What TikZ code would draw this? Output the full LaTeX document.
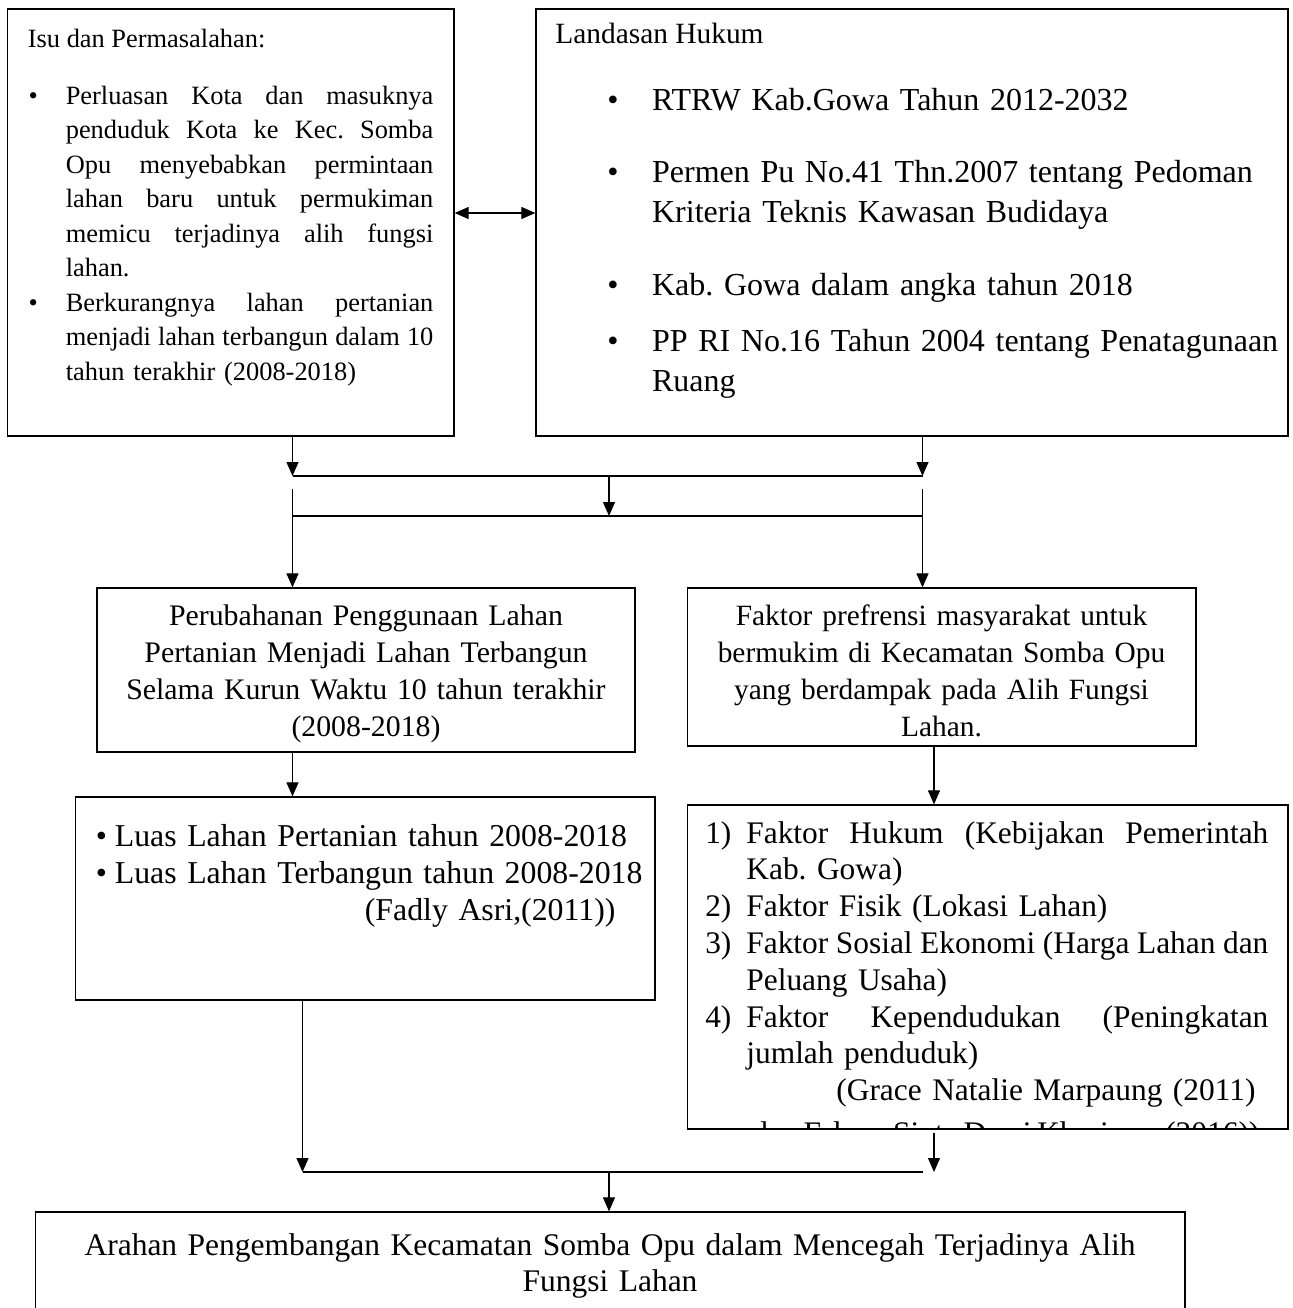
\documentclass[tikz,border=0pt]{standalone}
\usepackage{fontspec}
\setmainfont{Liberation Serif}
\usetikzlibrary{arrows.meta,fit}
\newcommand\jl[2]{\leavevmode\hbox to #1{#2}}
\newcommand\bul[1]{\leavevmode\llap{\textbullet\hspace{#1}}}
\newcommand\num[1]{\leavevmode\llap{#1\hspace{7.5pt}}}
\frenchspacing
\begin{document}
\begin{tikzpicture}[x=0.5pt,y=-0.5pt,
  box/.style={draw, line width=0.65pt, inner sep=0pt},
  txt/.style={inner sep=0pt, anchor=base west, align=left},
  ctxt/.style={inner sep=0pt, anchor=base, align=center},
  conn/.style={line width=0.6pt, -{Triangle[length=7pt,width=6pt]}},
  dconn/.style={line width=0.6pt, {Triangle[length=7pt,width=6pt]}-{Triangle[length=7pt,width=6pt]}},
  bar/.style={line width=1.3pt},
]
\useasboundingbox (0,0) rectangle (1293,1308);
\clip (0,0) rectangle (1293,1308);

% boxes
\node[box, fit={(7.5,9) (454,436)}] (b1) {};
\node[box, fit={(536,9) (1288,436)}] (b2) {};
\node[box, fit={(97,588) (635,752)}] (b3) {};
\node[box, fit={(687.5,588) (1196,746)}] (b4) {};
\node[box, fit={(75.5,797) (655,1000)}] (b5) {};
\node[box, fit={(687.5,805) (1288,1129)}] (b6) {};
\node[box, fit={(35.5,1212) (1185,1340)}] (b7) {};

% box 1 text
\node[txt, font=\fontsize{13.2pt}{17.25pt}\selectfont] (t1a) at (27.5,47) {Isu dan Permasalahan:};
\node[txt, text width=184pt, font=\fontsize{13.2pt}{17.25pt}\selectfont] (t1b) at (65.4,104) {%
\bul{14pt}\jl{183.8pt}{Perluasan\hfill Kota\hfill dan\hfill masuknya}\\
\jl{183.8pt}{penduduk\hfill Kota\hfill ke\hfill Kec.\hfill Somba}\\
\jl{183.8pt}{Opu\hfill menyebabkan\hfill permintaan}\\
\jl{183.8pt}{lahan\hfill baru\hfill untuk\hfill permukiman}\\
\jl{183.8pt}{memicu\hfill terjadinya\hfill alih\hfill fungsi}\\
lahan.\\
\bul{14pt}\jl{183.8pt}{Berkurangnya\hfill lahan\hfill pertanian}\\
\jl{183.8pt}{menjadi\hfill lahan\hfill terbangun\hfill dalam\hfill 10}\\
tahun terakhir (2008-2018)};

% box 2 text
\node[txt, font=\fontsize{14.7pt}{20pt}\selectfont] (t2a) at (555,43) {Landasan Hukum};
\node[txt, text width=318pt, font=\fontsize{16pt}{20pt}\selectfont] (t2b) at (651.7,110) {%
\bul{16.8pt}RTRW Kab.Gowa Tahun 2012-2032\\[16pt]
\bul{16.8pt}Permen Pu No.41 Thn.2007 tentang Pedoman\\
Kriteria Teknis Kawasan Budidaya\\[16.5pt]
\bul{16.8pt}Kab. Gowa dalam angka tahun 2018\\[8pt]
\bul{16.8pt}PP RI No.16 Tahun 2004 tentang Penatagunaan\\
Ruang};

% box 3 text
\node[ctxt, text width=260pt, font=\fontsize{14.9pt}{18.5pt}\selectfont] (t3) at (366,625) {%
Perubahanan Penggunaan Lahan\\
Pertanian Menjadi Lahan Terbangun\\
Selama Kurun Waktu 10 tahun terakhir\\
(2008-2018)};

% box 4 text
\node[ctxt, text width=245pt, font=\fontsize{14.7pt}{18.5pt}\selectfont] (t4) at (941.5,625) {%
Faktor prefrensi masyarakat untuk\\
bermukim di Kecamatan Somba Opu\\
yang berdampak pada Alih Fungsi\\
Lahan.};

% box 5 text
\node[txt, text width=265pt, font=\fontsize{15.9pt}{18.5pt}\selectfont] (t5) at (114.5,846) {%
\bul{4pt}Luas Lahan Pertanian tahun 2008-2018\\
\bul{4pt}Luas Lahan Terbangun tahun 2008-2018\\
\hspace*{125pt}(Fadly Asri,(2011))};

% box 6 text (clipped by the box)
\begin{scope}
\clip (688,805.5) rectangle (1287.5,1128.3);
\node[txt, text width=262pt, font=\fontsize{15.7pt}{18.4pt}\selectfont] (t6) at (746,843) {%
\num{1)}\jl{261pt}{Faktor\hfill Hukum\hfill (Kebijakan\hfill Pemerintah}\\
Kab. Gowa)\\
\num{2)}Faktor Fisik (Lokasi Lahan)\\
\num{3)}\jl{261pt}{Faktor\hfill Sosial\hfill Ekonomi\hfill (Harga\hfill Lahan\hfill dan}\\
Peluang Usaha)\\
\num{4)}\jl{261pt}{Faktor\hfill Kependudukan\hfill (Peningkatan}\\
jumlah penduduk)\\
\hspace*{45pt}(Grace Natalie Marpaung (2011)\\[3pt]
\hspace*{3pt}\jl{253.5pt}{dan\hfill Erlyna\hfill Sinta\hfill Dewi\hfill Kharisma\hfill (2016))}};
\end{scope}

% box 7 text
\node[ctxt, text width=570pt, font=\fontsize{15.75pt}{18pt}\selectfont] (t7) at (610,1255) {%
Arahan Pengembangan Kecamatan Somba Opu dalam Mencegah Terjadinya Alih\\
Fungsi Lahan};

% junction coordinates
\coordinate (dy) at (0,213);
\coordinate (uL) at (292.5,476);
\coordinate (uR) at (922.5,476);
\coordinate (uM) at (609,476);
\coordinate (lL) at (292.5,516);
\coordinate (lR) at (922.5,516);
\coordinate (lM) at (609,516);
\coordinate (vL) at (292.5,489);
\coordinate (vR) at (922.5,489);
\coordinate (x3) at (292.5,0);
\coordinate (x4) at (934,0);
\coordinate (bL) at (302.5,1172);
\coordinate (bR) at (923,1172);
\coordinate (bM) at (609,1172);
\coordinate (s6) at (934,1133);

% connectors
\draw[dconn] (b1.east |- dy) -- (b2.west |- dy);
\draw[conn] (b1.south -| uL) -- (uL);
\draw[conn] (b2.south -| uR) -- (uR);
\draw[bar] (uL) -- (uR);
\draw[conn] (uM) -- (lM);
\draw[bar] (lL) -- (lR);
\draw[conn] (vL) -- (b3.north -| vL);
\draw[conn] (vR) -- (b4.north -| vR);
\draw[conn] (b3.south -| x3) -- (b5.north -| x3);
\draw[conn] (b4.south -| x4) -- (b6.north -| x4);
\draw[conn] (b5.south -| bL) -- (bL);
\draw[conn] (s6) -- (s6 |- bL);
\draw[bar] (bL) -- (bR);
\draw[conn] (bM) -- (b7.north -| bM);
\end{tikzpicture}
\end{document}
